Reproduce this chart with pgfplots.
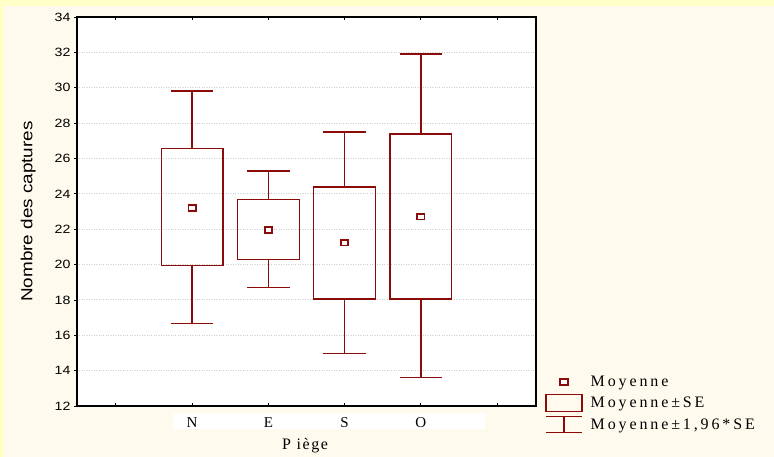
\documentclass[border=0pt]{standalone}
\usepackage{pgfplots}
\pgfplotsset{compat=1.18}
\usepgfplotslibrary{statistics}
\usepackage{fontspec}
\setmainfont{Liberation Serif}
\newfontfamily\sfw[FakeStretch=1.18]{Liberation Sans}
\newfontfamily\spaced[LetterSpace=18]{Liberation Serif}
\newfontfamily\spacedx[LetterSpace=10]{Liberation Serif}
\definecolor{dr}{RGB}{139,10,10}
\definecolor{yelo}{RGB}{255,255,200}
\definecolor{cream}{RGB}{255,250,238}
\definecolor{gridc}{RGB}{205,205,205}
\begin{document}
\begin{tikzpicture}
\useasboundingbox (0pt,0pt) rectangle (774pt,457pt);
\fill[yelo] (0pt,0pt) rectangle (774pt,457pt);
\fill[cream] (4pt,0pt) rectangle (774pt,451pt);
\fill[white] (173pt,28pt) rectangle (485pt,44pt);
\begin{axis}[
  at={(77pt,51pt)}, anchor=south west,
  scale only axis, width=459pt, height=389pt,
  xmin=-0.51, xmax=5.51, ymin=12, ymax=34,
  xtick={0,1,2,3,4,5}, xticklabels={,N,E,S,O,},
  ytick={12,14,...,34},
  ytick pos=left,
  tick align=inside,
  major tick length=3pt,
  ytick style={xshift=-3pt},
  tick style={black, line width=0.8pt},
  axis line style={black, line width=1.3pt},
  axis background/.style={fill=white},
  ymajorgrids, grid style={dotted, gridc, line width=1pt},
  /pgf/number format/assume math mode=true,
  yticklabel style={font=\sfw\fontsize{12}{12}\selectfont, xshift=-3pt},
  xticklabel style={font=\fontsize{15}{15}\selectfont, yshift=-8pt},
  ylabel={Nombre des captures},
  ylabel style={font=\sfw\fontsize{16}{16}\selectfont, at={(axis description cs:-0.106,0.5)}, anchor=center},
  xlabel={P iège},
  xlabel style={font=\spacedx\fontsize{16}{16}\selectfont, at={(axis description cs:0.497,-0.103)}, anchor=center},
  boxplot/draw direction=y,
  boxplot/draw/median/.code={},
  legend style={at={(axis description cs:1.0135,0.09)}, anchor=north west, draw=none, fill=none,
    font=\spaced\fontsize{16}{16}\selectfont, row sep=3pt,
    /tikz/every odd column/.append style={column sep=6pt}},
  legend cell align=left,
]
\addplot[dr, line width=1.3pt, boxplot prepared={draw position=1, lower whisker=16.67, lower quartile=19.95, median=23.2, upper quartile=26.56, upper whisker=29.81, box extend=0.81, whisker extend=0.56}, forget plot] coordinates {};
\addplot[dr, line width=1.3pt, boxplot prepared={draw position=2, lower whisker=18.7, lower quartile=20.3, median=21.96, upper quartile=23.66, upper whisker=25.29, box extend=0.81, whisker extend=0.56}, forget plot] coordinates {};
\addplot[dr, line width=1.3pt, boxplot prepared={draw position=3, lower whisker=14.98, lower quartile=18.05, median=21.23, upper quartile=24.39, upper whisker=27.5, box extend=0.81, whisker extend=0.56}, forget plot] coordinates {};
\addplot[dr, line width=1.3pt, boxplot prepared={draw position=4, lower whisker=13.6, lower quartile=18.05, median=22.7, upper quartile=27.38, upper whisker=31.9, box extend=0.81, whisker extend=0.56}, forget plot] coordinates {};
\addplot[only marks, mark=square*, mark size=2.8pt, mark options={dr, fill=white, line width=1.8pt, xscale=1.3}, forget plot] coordinates {(1,23.2) (2,21.96) (3,21.23) (4,22.7)};
\addlegendimage{legend image code/.code={\path[draw=none] (0pt,-9pt) rectangle (36pt,9pt); \draw[dr, fill=white, line width=1.8pt] (14pt,-2.8pt) rectangle (22pt,2.8pt);}}
\addlegendentry{Moyenne}
\addlegendimage{legend image code/.code={\path[draw=none] (0pt,-9pt) rectangle (36pt,9pt); \draw[dr, line width=1.3pt] (0pt,-8.5pt) rectangle (36pt,8.5pt);}}
\addlegendentry{Moyenne±SE}
\addlegendimage{legend image code/.code={\path[draw=none] (0pt,-9pt) rectangle (36pt,9pt); \draw[dr, line width=1.3pt] (0pt,8pt)--(36pt,8pt) (18pt,8pt)--(18pt,-8pt) (0pt,-8pt)--(36pt,-8pt);}}
\addlegendentry{Moyenne±1,96*SE}
\end{axis}
\end{tikzpicture}
\end{document}
